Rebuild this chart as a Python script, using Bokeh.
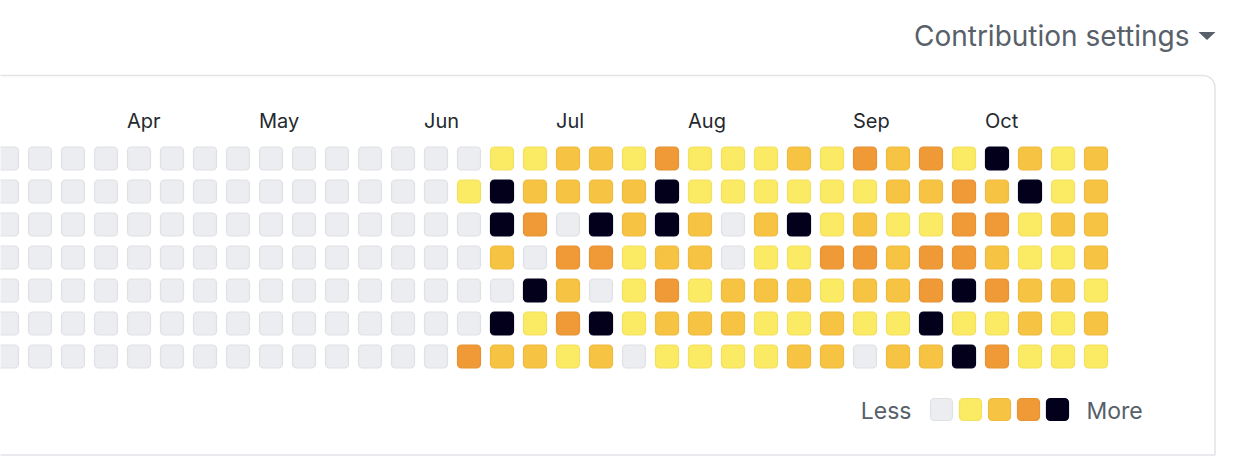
from bokeh.plotting import figure
from bokeh.models import Range1d, ColumnDataSource
from bokeh.core.properties import value
from bokeh.embed import file_html
from bokeh.resources import INLINE

# ---- data: contribution level (0-4) per week, one string per weekday ----
sun = "0000000000000001122131112132314212"
mon = "0000000000000014222241111112232412"
tue = "0000000000000004304242024121133122"
wed = "0000000000000002033122011332332112"
thu = "0000000000000000420131222122343221"
fri = "0000000000000004134122211211411212"
sat = "0000000000000032212011112202243111"

month_names = ["Apr", "May", "Jun", "Jul", "Aug", "Sep", "Oct"]
month_week = [4, 8, 13, 17, 21, 26, 30]

level_colors = ["#ebedf0", "#fbea64", "#f6c343", "#ef9a37", "#03001c"]
level_lines = ["#dfe1e5", "#f3e060", "#edbb40", "#e69235", "#03001c"]

W, H = 1232, 458
FONT = "Inter"

rows = [sun, mon, tue, wed, thu, fri, sat]
xs, ys, fills, lines = [], [], [], []
for d, row in enumerate(rows):
    for w, ch in enumerate(row):
        lv = int(ch)
        xs.append(w)
        ys.append(d)
        fills.append(level_colors[lv])
        lines.append(level_lines[lv])
src = ColumnDataSource(dict(week=xs, day=ys, fill=fills, line=lines))

pitch = 33.0
x0 = -6.5 / pitch
t0 = -158.0 / pitch
p = figure(width=W, height=H, output_backend="svg", toolbar_location=None, tools="",
           x_range=Range1d(x0, x0 + W / pitch),
           y_range=Range1d(t0 + H / pitch, t0),
           x_axis_type=None, y_axis_type=None, min_border=0)
p.grid.visible = False
p.outline_line_color = None
p.background_fill_color = "white"
p.border_fill_color = "white"

# pixel-space ranges for page chrome
p.extra_x_ranges = {"px": Range1d(0, W)}
p.extra_y_ranges = {"px": Range1d(H, 0)}

# outer box
p.quad(left=-20, right=1214.5, top=75, bottom=454.5, fill_color=None,
       line_color="#e1e4e8", line_width=1.6, border_radius=(0, 12, 0, 0),
       x_range_name="px", y_range_name="px")

# heatmap cells
p.rect(x="week", y="day", width=23, height=23, width_units="screen", height_units="screen",
       fill_color="fill", line_color="line", line_width=1.2, border_radius=4, source=src)

# month labels
msrc = ColumnDataSource(dict(x=month_week, t=month_names))
p.text(x="x", y=120, text="t", source=msrc, x_offset=-12, y_range_name="px",
       text_font=value(FONT), text_font_size="20px", text_color="#24292e",
       text_align="left", text_baseline="alphabetic")

# header
p.text(x=[1189], y=[35], text=["Contribution settings"], x_range_name="px", y_range_name="px",
       text_font=value(FONT), text_font_size="28px", text_color="#586069",
       text_align="right", text_baseline="alphabetic")
p.patch(x=[1198, 1215, 1206.5], y=[31.5, 31.5, 39.5], fill_color="#586069", line_color=None,
        x_range_name="px", y_range_name="px")

# legend
lx = [941 + 29 * i for i in range(len(level_colors))]
p.rect(x=lx, y=409, width=22, height=22, width_units="screen", height_units="screen",
       fill_color=level_colors, line_color=level_lines, line_width=1.2, border_radius=4,
       x_range_name="px", y_range_name="px")
p.text(x=[911], y=[410], text=["Less"], x_range_name="px", y_range_name="px",
       text_font=value(FONT), text_font_size="23px", text_color="#586069",
       text_align="right", text_baseline="alphabetic")
p.text(x=[1086], y=[410], text=["More"], x_range_name="px", y_range_name="px",
       text_font=value(FONT), text_font_size="23px", text_color="#586069",
       text_align="left", text_baseline="alphabetic")

open("out.html", "w").write(file_html(p, INLINE))
